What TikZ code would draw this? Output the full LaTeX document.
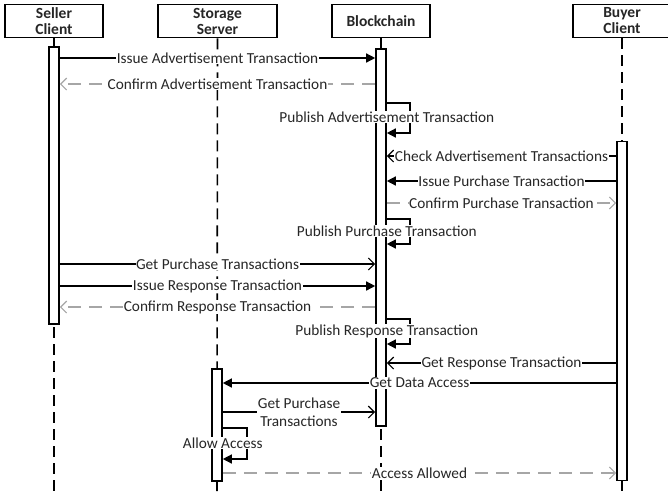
\documentclass[tikz,border=0pt]{standalone}
\usepackage{fontspec}
\setmainfont{Carlito}
\usetikzlibrary{arrows.meta}
\definecolor{retgray}{RGB}{166,166,166}
\begin{document}
\begin{tikzpicture}[x=1pt,y=-1pt,
 head/.style={draw,line width=1.6pt,minimum height=33pt,font=\fontsize{15.5}{16}\selectfont\bfseries,align=center,inner sep=0pt,text=black!85},
 bar/.style={draw,line width=1.6pt,fill=white,minimum width=10pt,inner sep=0pt},
 life/.style={line width=1.6pt,dash pattern=on 11pt off 6pt},
 msg/.style={line width=1.4pt},
 ret/.style={line width=1.4pt,retgray,dash pattern=on 13pt off 8pt},
 fa/.style={-{Triangle[length=9pt,width=9pt]}},
 oa/.style={-{Straight Barb[length=6pt,width=12pt,line width=1.2pt]}},
 lbl/.style={fill=white,inner sep=0.5pt,font=\fontsize{15.3}{17}\selectfont,text=black!85,align=center}]
\useasboundingbox (0,0) rectangle (668,491);
% heads
\node[head,minimum width=98pt] (sc) at (54,21) {Seller\\Client};
\node[head,minimum width=119pt] (ss) at (217.5,21) {Storage\\Server};
\node[head,minimum width=98pt] (bc) at (381,21) {Blockchain};
\node[head,minimum width=98pt] (bu) at (622,21) {Buyer\\Client};
% lifeline ends
\coordinate (sce) at (54,491);
\coordinate (sse) at (217,491);
\coordinate (bce) at (381,491);
\coordinate (bue) at (622,491);
\draw[life] (sc.south) -- (sce);
\draw[life] (ss.south) -- (sse);
\draw[life] (bc.south) -- (bce);
\draw[life] (bu.south) -- (bue);
% activation bars
\node[bar,minimum height=277pt] (sb) at (54,185.5) {};
\node[bar,minimum height=377pt] (bb) at (381,237.5) {};
\node[bar,minimum height=339pt] (ub) at (622,311) {};
\node[bar,minimum height=112pt] (stb) at (217,425) {};
% messages
\draw[msg,fa] (sb.east |- 0,58) -- node[lbl]{Issue Advertisement Transaction} (bb.west |- 0,58);
\draw[ret,oa] (bb.west |- 0,84) -- node[lbl]{Confirm Advertisement Transaction} (sb.east |- 0,84);
\draw[msg,fa] (bb.east |- 0,103) -- ++(23,0) |- (bb.east |- 0,133);
\node[lbl] (l3) at (bb.east |- 0,117) {Publish Advertisement Transaction};
\draw[msg,oa] (ub.west |- 0,156) -- node[lbl]{Check Advertisement Transactions} (bb.east |- 0,156);
\draw[msg,fa] (ub.west |- 0,181) -- node[lbl]{Issue Purchase Transaction} (bb.east |- 0,181);
\draw[ret,oa] (bb.east |- 0,203) -- node[lbl]{Confirm Purchase Transaction} (ub.west |- 0,203);
\draw[msg,fa] (bb.east |- 0,219) -- ++(23,0) |- (bb.east |- 0,244);
\node[lbl] (l7) at (bb.east |- 0,231) {Publish Purchase Transaction};
\draw[msg,oa] (sb.east |- 0,264) -- node[lbl]{Get Purchase Transactions} (bb.west |- 0,264);
\draw[msg,fa] (sb.east |- 0,286) -- node[lbl]{Issue Response Transaction} (bb.west |- 0,286);
\draw[ret,oa] (bb.west |- 0,307) -- node[lbl]{Confirm Response Transaction} (sb.east |- 0,307);
\draw[msg,fa] (bb.east |- 0,319) -- ++(23,0) |- (bb.east |- 0,344);
\node[lbl] (l11) at (bb.east |- 0,331) {Publish Response Transaction};
\draw[msg,oa] (ub.west |- 0,363) -- node[lbl]{Get Response Transaction} (bb.east |- 0,363);
\draw[msg,fa] (ub.west |- 0,383) -- node[lbl]{Get Data Access} (stb.east |- 0,383);
\draw[msg,oa] (stb.east |- 0,412) -- node[lbl,font=\fontsize{15.3}{18}\selectfont]{Get Purchase\\Transactions} (bb.west |- 0,412);
\draw[msg,fa] (stb.east |- 0,428) -- ++(24,0) |- (stb.east |- 0,459);
\node[lbl] (l15) at (stb.east |- 0,443) {Allow Access};
\draw[ret,oa] (stb.east |- 0,473) -- node[lbl]{Access Allowed} (ub.west |- 0,473);
\end{tikzpicture}
\end{document}
